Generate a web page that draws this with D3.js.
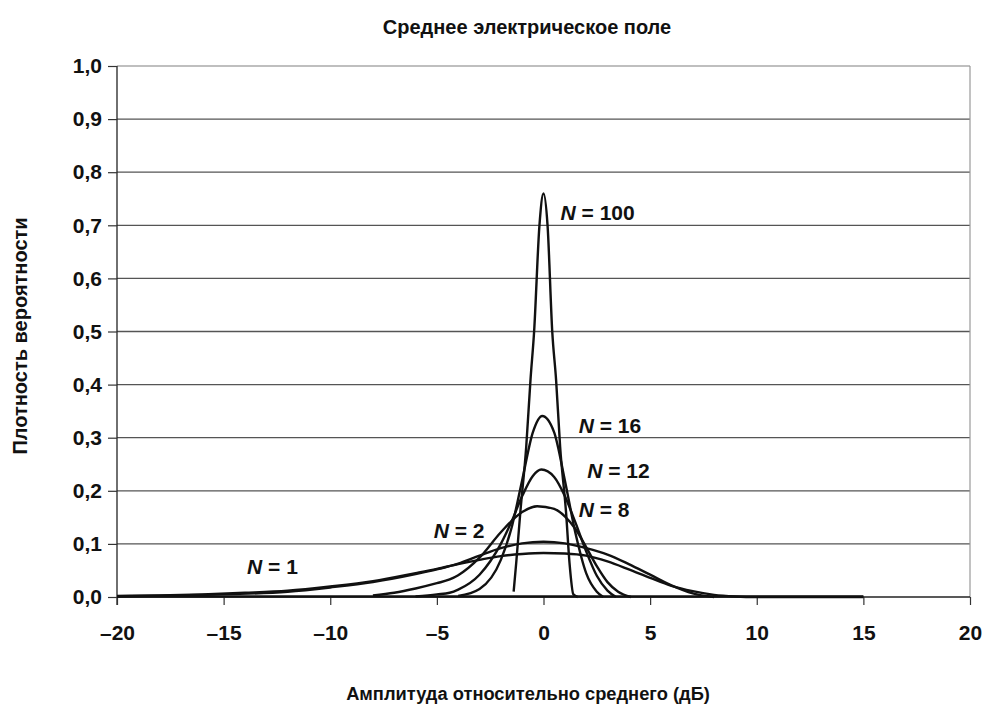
<!DOCTYPE html>
<html><head><meta charset="utf-8">
<script src="https://cdn.jsdelivr.net/npm/d3@7"></script>
<style>
body{margin:0;background:#fff;}
text{font-family:"Liberation Sans",Arial,sans-serif;fill:#111;}
</style></head>
<body><svg id="c" width="987" height="711"></svg>
<script>
const title = "Среднее электрическое поле";
const xTitle = "Амплитуда относительно среднего (дБ)";
const yTitle = "Плотность вероятности";
const xTicks = [-20,-15,-10,-5,0,5,10,15,20];
const yTicks = [0,0.1,0.2,0.3,0.4,0.5,0.6,0.7,0.8,0.9,1.0];

const seriesN = ["1","2","8","12","16","100"];
const xN1   = [-20,-18,-16,-14,-12,-10,-8,-6,-5,-4,-3,-2,-1,0,1,2,3,4,5,6,7,8,9,10,15];
const yN1   = [0.002,0.003,0.005,0.008,0.012,0.02,0.03,0.045,0.053,0.062,0.07,0.077,0.081,0.083,0.082,0.078,0.067,0.052,0.036,0.021,0.011,0.004,0.001,0,0];
const xN2   = [-20,-16,-12,-10,-8,-6,-5,-4,-3,-2,-1,0,1,2,3,4,5,6,7,8];
const yN2   = [0.001,0.004,0.01,0.018,0.028,0.043,0.052,0.063,0.078,0.092,0.101,0.104,0.101,0.092,0.08,0.062,0.042,0.022,0.007,0];
const xN8   = [-8,-7,-6,-5,-4.4,-4,-3,-2,-1,-0.3,0.5,1,1.5,2,2.5,3,3.5,4.1];
const yN8   = [0.003,0.008,0.016,0.026,0.033,0.041,0.074,0.122,0.16,0.171,0.166,0.152,0.128,0.094,0.058,0.028,0.01,0];
const xN12  = [-6,-5,-4.4,-4,-3,-2,-1.5,-1,-0.5,-0.1,0.5,1,1.5,2,2.5,3,3.4];
const yN12  = [0.001,0.005,0.008,0.014,0.042,0.1,0.142,0.19,0.228,0.24,0.226,0.19,0.14,0.086,0.04,0.012,0];
const xN16  = [-4,-3,-2,-1.5,-1,-0.5,-0.06,0.5,1,1.5,2,2.5,2.8];
const yN16  = [0.002,0.015,0.07,0.13,0.22,0.31,0.341,0.31,0.22,0.12,0.045,0.01,0];
const xN100 = [-1.4,-1.28,-1.09,-0.81,-0.61,-0.44,-0.19,0,0.19,0.41,0.59,0.78,1.06,1.22,1.4,1.6];
const yN100 = [0.01,0.064,0.158,0.283,0.409,0.5,0.7,0.76,0.7,0.5,0.409,0.283,0.158,0.064,0.005,0];

const labelX = [-13.9,-5.15,1.65,2.05,1.65,0.8];
const labelY = [0.043,0.112,0.15,0.225,0.308,0.71];

const seriesX = [xN1,xN2,xN8,xN12,xN16,xN100];
const seriesY = [yN1,yN2,yN8,yN12,yN16,yN100];

const svg = d3.select("#c");
const x = d3.scaleLinear().domain([-20,20]).range([117,970]);
const y = d3.scaleLinear().domain([0,1]).range([597,66]);

// gridlines
svg.append("g").selectAll("line").data(yTicks.filter(d=>d>0)).join("line")
  .attr("x1",x(-20)).attr("x2",x(20)).attr("y1",d=>y(d)).attr("y2",d=>y(d))
  .attr("stroke",d=>d===1?"#aaa":"#555").attr("stroke-width",1.3);
// right border
svg.append("line").attr("x1",x(20)).attr("x2",x(20)).attr("y1",y(1)).attr("y2",y(0))
  .attr("stroke","#999").attr("stroke-width",1.2);

// axes
const yAxis = d3.axisLeft(y).tickValues(yTicks).tickSize(9).tickPadding(6)
  .tickFormat(d=>d3.format(".1f")(d).replace(".",","));
const gy = svg.append("g").attr("transform",`translate(${x(-20)},0)`).call(yAxis);
gy.select(".domain").attr("stroke","#222").attr("stroke-width",1.3).attr("d",`M0,${y(1)}V${y(0)+8}`);
gy.selectAll(".tick line").attr("stroke","#333").attr("stroke-width",1.2);
gy.selectAll(".tick text").attr("font-size",21).attr("font-weight","bold")
  .attr("font-family","Liberation Sans, Arial, sans-serif").attr("fill","#111");

const xAxis = d3.axisBottom(x).tickValues(xTicks).tickSize(8).tickPadding(20)
  .tickFormat(d=>d<0?"–"+Math.abs(d):String(d));
const gx = svg.append("g").attr("transform",`translate(0,${y(0)})`).call(xAxis);
gx.select(".domain").attr("stroke","#222").attr("stroke-width",1.3).attr("d",`M${x(-20)},0H${x(20)}`);
gx.selectAll(".tick line").attr("stroke","#333").attr("stroke-width",1.2);
gx.selectAll(".tick text").attr("font-size",21).attr("font-weight","bold")
  .attr("font-family","Liberation Sans, Arial, sans-serif").attr("fill","#111");

// curves
const line = d3.line().x(d=>x(d[0])).y(d=>y(d[1])).curve(d3.curveMonotoneX);
seriesX.forEach((xs,i)=>{
  const pts = xs.map((v,j)=>[v,seriesY[i][j]]);
  svg.append("path").attr("d",line(pts)).attr("fill","none")
    .attr("stroke","#111").attr("stroke-width",2.4).attr("stroke-linejoin","round");
});
svg.append("path").attr("d",line([[-20,0.001],[15,0.001]])).attr("stroke","#111").attr("stroke-width",2.4);

// labels
seriesN.forEach((n,i)=>{
  const t = svg.append("text").attr("x",x(labelX[i])).attr("y",y(labelY[i]))
    .attr("font-size",21).attr("font-weight","bold");
  t.append("tspan").attr("font-style","italic").text("N");
  t.append("tspan").text(" = "+n);
});

// titles
svg.append("text").attr("x",527).attr("y",34).attr("text-anchor","middle")
  .attr("font-size",20).attr("font-weight","bold").text(title);
svg.append("text").attr("x",528).attr("y",700).attr("text-anchor","middle")
  .attr("font-size",18.3).attr("font-weight","bold").text(xTitle);
svg.append("text").attr("transform","translate(27,336) rotate(-90)").attr("text-anchor","middle")
  .attr("font-size",20).attr("font-weight","bold").text(yTitle);
</script></body></html>
